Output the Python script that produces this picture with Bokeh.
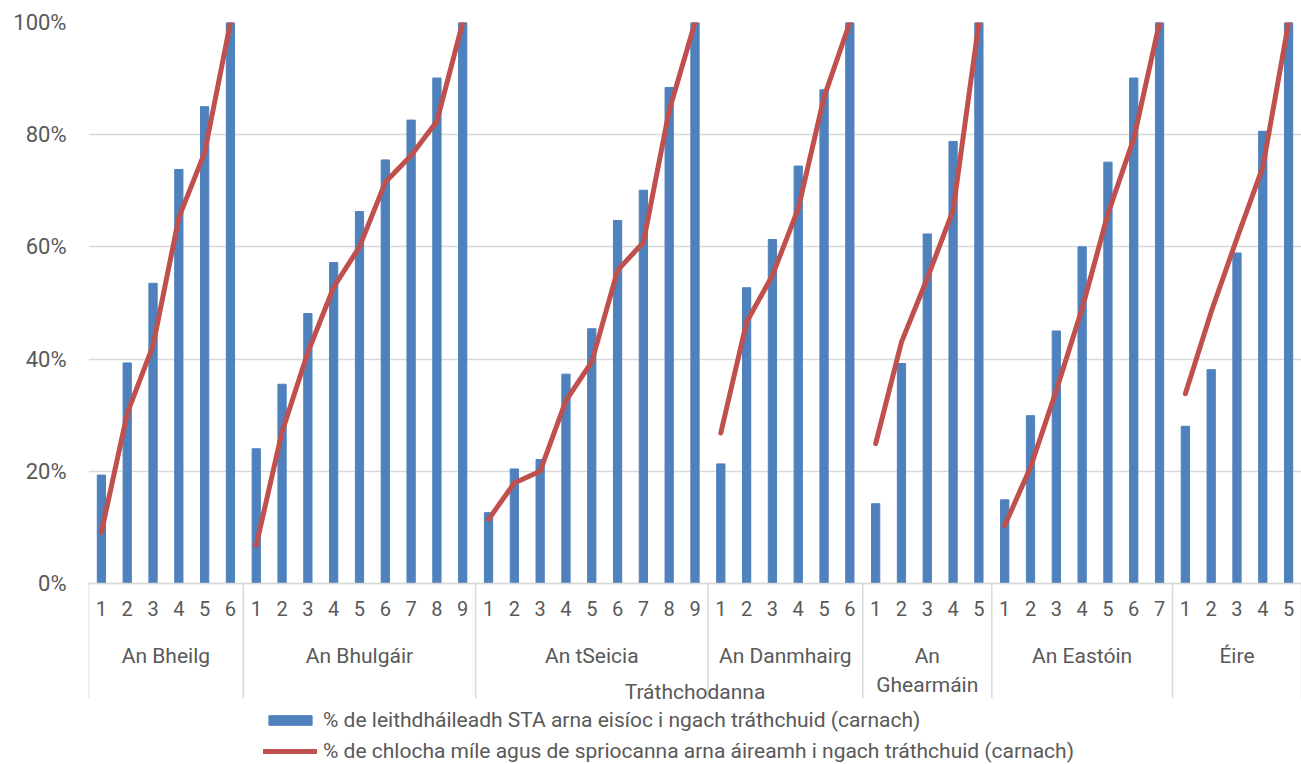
from bokeh.plotting import figure
from bokeh.models import (FactorRange, Range1d, FixedTicker, PrintfTickFormatter,
                          Legend, LegendItem, ColumnDataSource, LinearAxis)
from bokeh.embed import file_html
from bokeh.resources import INLINE

# ---- data -------------------------------------------------------------
countries = ["An Bheilg", "An Bhulgáir", "An tSeicia", "An Danmhairg",
             "An Ghearmáin", "An Eastóin", "Éire"]
country_labels = ["An Bheilg", "An Bhulgáir", "An tSeicia", "An Danmhairg",
                  "An\nGhearmáin", "An Eastóin", "Éire"]

bar_belgium = [19.3, 39.3, 53.5, 73.8, 85.0, 100]
bar_bulgaria = [24.0, 35.5, 48.1, 57.2, 66.3, 75.5, 82.6, 90.1, 100]
bar_czechia = [12.6, 20.4, 22.1, 37.3, 45.4, 64.7, 70.1, 88.4, 100]
bar_denmark = [21.3, 52.7, 61.3, 74.4, 88.0, 100]
bar_germany = [14.2, 39.2, 62.3, 78.8, 100]
bar_estonia = [14.9, 29.9, 45.0, 60.0, 75.1, 90.1, 100]
bar_ireland = [28.0, 38.1, 58.9, 80.6, 100]

line_belgium = [9.1, 30.3, 42.4, 65.2, 76.8, 100]
line_bulgaria = [6.8, 27.0, 41.2, 52.8, 60.0, 71.5, 76.3, 82.4, 100]
line_czechia = [11.4, 17.9, 20.0, 32.6, 39.5, 55.8, 60.8, 84.3, 100]
line_denmark = [26.8, 46.6, 54.9, 66.8, 86.7, 100]
line_germany = [24.9, 43.0, 54.4, 66.5, 100]
line_estonia = [10.3, 20.7, 34.4, 49.0, 65.9, 79.3, 100]
line_ireland = [33.8, 48.4, 61.5, 74.2, 100]

bar_series = [bar_belgium, bar_bulgaria, bar_czechia, bar_denmark,
              bar_germany, bar_estonia, bar_ireland]
line_series = [line_belgium, line_bulgaria, line_czechia, line_denmark,
               line_germany, line_estonia, line_ireland]

y_ticks = [0, 20, 40, 60, 80, 100]
x_title = "Tráthchodanna"
bar_label = "% de leithdháileadh STA arna eisíoc i ngach tráthchuid (carnach)"
line_label = "% de chlocha míle agus de spriocanna arna áireamh i ngach tráthchuid (carnach)"

# ---- styling ----------------------------------------------------------
FONT = "Roboto"
TXT = "#595959"
GRID = "#d9d9d9"
BLUE = "#4F81BD"
RED = "#C0504D"
Y_MIN = -32.3       # room below the 0 line for the category axis + legend
SEP_BOTTOM = -20.5  # how far the group separators reach below the 0 line

factors = []
tops = []
for c, vals in zip(countries, bar_series):
    for i, v in enumerate(vals):
        factors.append((c, str(i + 1)))
        tops.append(v)

# group boundaries / centres in the category range's own synthetic units
bounds = [0]
for vals in bar_series:
    bounds.append(bounds[-1] + len(vals))
centres = [(a + b) / 2 for a, b in zip(bounds[:-1], bounds[1:])]

p = figure(width=1301, height=764, output_backend="svg", toolbar_location=None,
           x_range=FactorRange(*factors, factor_padding=0, group_padding=0,
                               subgroup_padding=0, range_padding=0),
           y_range=Range1d(Y_MIN, 100),
           min_border_left=88, min_border_right=0, min_border_top=22,
           min_border_bottom=0)
p.outline_line_color = None
p.background_fill_color = "white"

# group separators
p.segment(x0=bounds, y0=[0] * len(bounds), x1=bounds, y1=[SEP_BOTTOM] * len(bounds),
          line_color=GRID, line_width=1.5)

src = ColumnDataSource(dict(x=factors, top=tops))
bar_r = p.vbar(x="x", top="top", width=0.32, source=src,
               fill_color=BLUE, line_color=BLUE)

line_rs = []
for c, vals in zip(countries, line_series):
    xs = [(c, str(i + 1)) for i in range(len(vals))]
    r = p.line(xs, vals, line_color=RED, line_width=5,
               line_cap="round", line_join="round")
    line_rs.append(r)

# y axis
p.yaxis.ticker = FixedTicker(ticks=y_ticks)
p.yaxis.formatter = PrintfTickFormatter(format="%d%%")
p.yaxis.axis_line_color = None
p.yaxis.major_tick_line_color = None
p.yaxis.minor_tick_line_color = None
p.yaxis.major_label_text_font = FONT
p.yaxis.major_label_text_font_size = "22px"
p.yaxis.major_label_text_color = TXT
p.yaxis.major_label_standoff = 16
p.ygrid.ticker = FixedTicker(ticks=y_ticks)
p.ygrid.grid_line_color = GRID
p.ygrid.grid_line_width = 1.5
p.xgrid.grid_line_color = None

# x axis: period numbers (categorical axis, drawn at the 0 line)
xa = p.xaxis[0]
xa.fixed_location = 0
xa.axis_line_color = GRID
xa.axis_line_width = 1.5
xa.major_tick_line_color = None
xa.minor_tick_line_color = None
xa.major_label_text_font = FONT
xa.major_label_text_font_size = "20px"
xa.major_label_text_color = TXT
xa.major_label_standoff = 12
xa.group_text_color = None
xa.separator_line_color = None

# x axis: country names, centred on each group
ga = LinearAxis(fixed_location=0,
                ticker=FixedTicker(ticks=centres),
                major_label_overrides={c: lab for c, lab in zip(centres, country_labels)})
ga.axis_line_color = None
ga.major_tick_line_color = None
ga.minor_tick_line_color = None
ga.major_label_text_font = FONT
ga.major_label_text_font_size = "21px"
ga.major_label_text_color = TXT
ga.major_label_standoff = 55
ga.axis_label = x_title
ga.axis_label_text_font = FONT
ga.axis_label_text_font_size = "21px"
ga.axis_label_text_color = TXT
ga.axis_label_text_font_style = "normal"
ga.axis_label_standoff = -20
p.add_layout(ga, "below")

legend = Legend(items=[LegendItem(label=bar_label, renderers=[bar_r]),
                       LegendItem(label=line_label, renderers=[line_rs[0]])],
                location=(175, 1), orientation="vertical",
                border_line_color=None, background_fill_alpha=0,
                padding=0, margin=0, spacing=7,
                glyph_width=54, glyph_height=12, label_height=20,
                label_standoff=6, label_text_font=FONT,
                label_text_font_size="21px", label_text_color=TXT)
p.add_layout(legend, "center")

open("out.html", "w").write(file_html(p, INLINE))
